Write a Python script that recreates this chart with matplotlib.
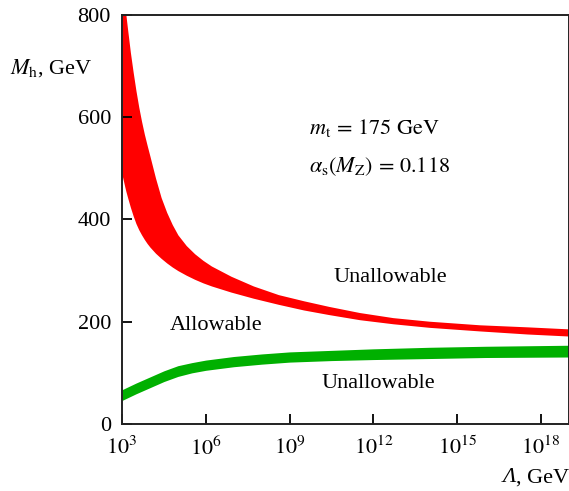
import matplotlib
matplotlib.use('Agg')
import matplotlib.pyplot as plt
import numpy as np

plt.rcParams['font.family'] = 'serif'
plt.rcParams['font.serif'] = ['Liberation Serif', 'DejaVu Serif']
plt.rcParams['mathtext.fontset'] = 'stix'

# upper bound band (log10 of cutoff scale vs Higgs mass)
logL_red = [3.0, 3.1, 3.14, 3.2, 3.3, 3.4, 3.5, 3.6, 3.7, 3.8, 3.9, 4.0, 4.2, 4.4,
            4.6, 4.8, 5.0, 5.3, 5.6, 5.9, 6.2, 6.9, 7.7, 8.6, 9.5, 10.4, 11.5, 12.7,
            14.0, 15.8, 17.5, 19.0]
red_hi = [950, 840, 800, 772, 727, 688, 652, 620, 592, 567, 545, 524, 481, 443,
          414, 390, 370, 349, 333, 320, 309, 289, 270, 253, 241, 230, 218, 208,
          201, 194, 190, 186]
red_lo = [488, 464, 455, 443, 424, 407, 392, 380, 370, 361, 353, 346, 334, 324,
          315, 307, 300, 291, 283, 276, 270, 258, 246, 234, 223, 214, 204, 196,
          189, 182, 176, 172]

# lower bound band (vacuum stability)
logL_green = [3.0, 3.5, 4.0, 4.5, 5.0, 5.5, 6.0, 7.0, 8.0, 9.0, 10.5, 12.0, 14.0, 16.0, 19.0]
green_hi = [67, 80, 92, 104, 114, 120, 125, 132, 137, 141, 144, 147, 150, 152, 154]
green_lo = [46, 59, 71, 83, 93, 100, 105, 112, 117, 121, 124, 126, 128, 130, 131]

xticks = [1e3, 1e6, 1e9, 1e12, 1e15, 1e18]
xticklabels = ['$10^{3}$', '$10^{6}$', '$10^{9}$', '$10^{12}$', '$10^{15}$', '$10^{18}$']
yticks = [0, 200, 400, 600, 800]

fig = plt.figure(figsize=(5.69, 4.91), dpi=100)
ax = fig.add_axes([0.2144, 0.1365, 0.7856, 0.833])

xr = 10.0 ** np.array(logL_red)
xg = 10.0 ** np.array(logL_green)
ax.fill_between(xr, red_lo, red_hi, color='#ff0000', lw=0)
ax.fill_between(xg, green_lo, green_hi, color='#00b000', lw=0)

ax.set_xscale('log')
ax.set_xlim(1e3, 1e19)
ax.set_ylim(0, 800)
ax.set_xticks(xticks)
ax.set_xticklabels(xticklabels)
ax.minorticks_off()
ax.set_yticks(yticks)
ax.tick_params(direction='in', length=7.5, width=1.3, labelsize=16, pad=8,
               top=False, right=False)
ax.tick_params(axis='x', pad=9)
for s in ax.spines.values():
    s.set_linewidth(1.4)
    s.set_color('#222222')

tkw = dict(fontsize=16, transform=fig.transFigure)
fig.text(10/569, 1-68/491, r'$M_\mathrm{h}$, GeV', ha='left', va='center', **tkw)
gev = fig.text(1.0, 1-478/491, ', GeV', ha='right', va='center', **tkw)
fig.text(309/569, 1-128/491, r'$m_\mathrm{t}\, =\, 175\ \mathrm{GeV}$', ha='left', va='center', **tkw)
fig.text(309/569, 1-167/491, r'$\alpha_\mathrm{s}(M_\mathrm{Z})\, =\, 0.118$', ha='left', va='center', **tkw)
fig.text(390/569, 1-277/491, 'Unallowable', ha='center', va='center', **tkw)
fig.text(216/569, 1-325/491, 'Allowable', ha='center', va='center', **tkw)
fig.text(378/569, 1-384/491, 'Unallowable', ha='center', va='center', **tkw)

# italic Lambda placed just left of ", GeV"
fig.canvas.draw()
bb = gev.get_window_extent()
fig.text(bb.x0 / fig.bbox.width, 1-478/491, '\u039b', ha='right', va='center',
         fontstyle='italic', **tkw)

plt.savefig('out.png', dpi=100)
